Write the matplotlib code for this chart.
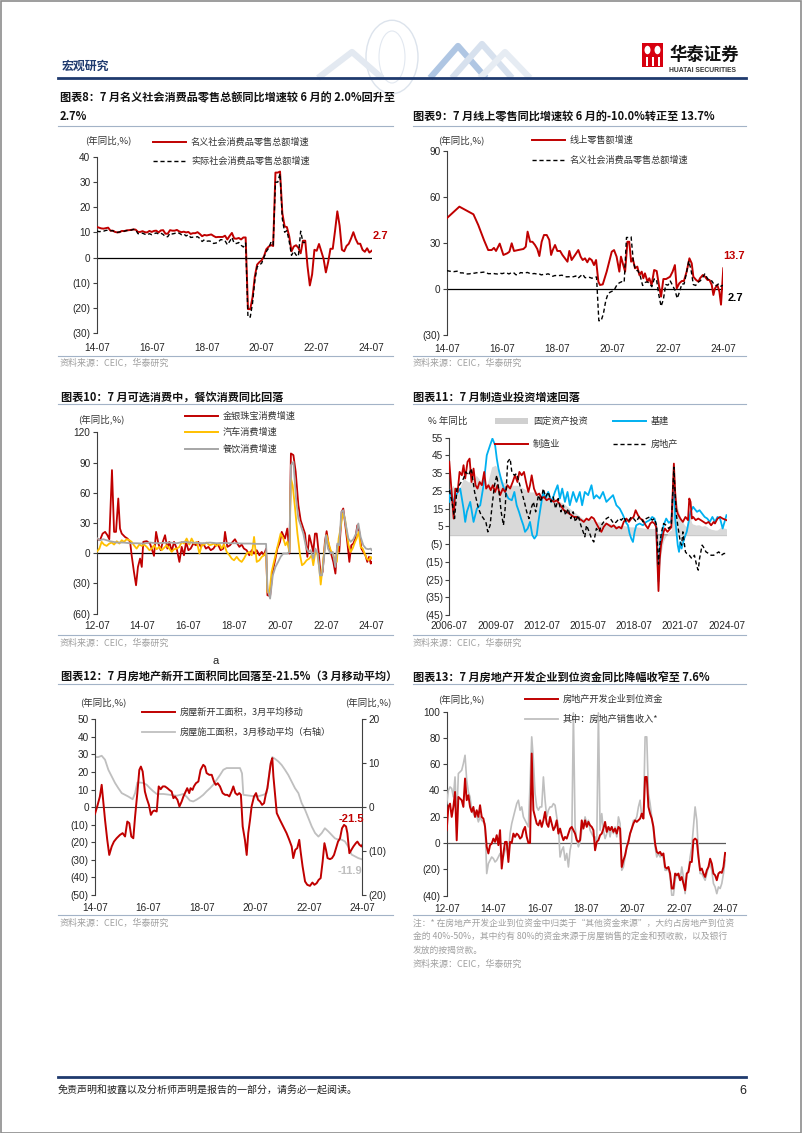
import numpy as np
import matplotlib.pyplot as plt
from matplotlib.lines import Line2D
from matplotlib.patches import Rectangle, Circle, Ellipse

plt.rcParams["font.family"] = ["Liberation Sans", "Noto Sans CJK SC"]
plt.rcParams["axes.unicode_minus"] = False
CJK = ["Noto Sans CJK SC", "DejaVu Sans"]

RED = "#C00000"
YEL = "#FFC000"
GRY = "#A6A6A6"
LGRY = "#BFBFBF"
BLUE = "#00B0F0"
SEP = "#A3B3C7"
SRC = "#A0A0A0"
NAVY = "#1F3A6E"

# ---- 图表8 / 图表9: 社零 (2014-07 起, 月度) ----
retail_nominal = [12.2, 11.9, 11.6, 11.5, 11.7, 11.9,
                  10.7, 10.7, 10.2, 10.0, 10.1, 10.6, 10.5, 10.8, 10.9, 11.0, 11.2, 11.1,
                  10.2, 10.2, 10.5, 10.1, 10.0, 10.6, 10.2, 10.6, 10.7, 10.0, 10.8, 10.9,
                  9.5, 9.5, 10.9, 10.7, 10.7, 11.0, 10.4, 10.1, 10.3, 10.0, 10.2, 9.4,
                  9.7, 9.7, 10.1, 9.4, 8.5, 9.0, 8.8, 9.0, 9.2, 8.6, 8.1, 8.2,
                  8.2, 8.2, 8.7, 7.2, 8.6, 9.8, 7.6, 7.5, 7.8, 7.2, 8.0, 8.0,
                  -20.5, -20.5, -15.8, -7.5, -2.8, -1.8, -1.1, 0.5, 3.3, 4.3, 5.0, 4.6,
                  33.8, 33.8, 34.2, 17.7, 12.4, 12.1, 8.5, 2.5, 4.4, 4.9, 3.9, 1.7,
                  6.7, 6.7, -3.5, -11.1, -6.7, 3.1, 2.7, 5.4, 2.5, -0.5, -5.9, -1.8,
                  3.5, 3.5, 10.6, 18.4, 12.7, 3.1, 2.5, 4.6, 5.5, 7.6, 10.1, 7.4,
                  5.5, 5.5, 3.1, 2.3, 3.7, 2.0, 2.7]
retail_real = [10.6, 10.3, 10.4, 10.5, 10.8, 10.9,
               10.7, 10.7, 10.2, 10.0, 10.2, 10.6, 10.5, 10.7, 10.9, 10.9, 11.2, 11.1,
               9.5, 9.5, 9.7, 9.3, 9.0, 9.5, 9.1, 9.5, 9.8, 9.4, 9.7, 9.2,
               8.3, 8.3, 9.7, 9.4, 9.6, 10.0, 9.7, 9.1, 9.4, 8.6, 9.1, 8.0,
               8.1, 8.1, 8.3, 7.6, 6.4, 7.1, 6.5, 6.6, 6.4, 5.6, 5.8, 6.0,
               7.1, 7.1, 6.7, 5.1, 6.4, 8.0, 5.7, 5.6, 6.0, 4.9, 4.2, 5.8,
               -23.7, -23.7, -18.1, -9.1, -3.7, -3.0, -2.2, 0.2, 2.4, 3.7, 6.0, 5.0,
               30.0, 30.0, 33.4, 15.4, 10.1, 10.7, 6.4, 0.9, 2.5, 1.0, 0.5, 10.5,
               6.0, 6.0]
online_m = [0, 5.5, 11.6, 13.7, 16.2, 18, 19.5, 20.5, 21.4, 23, 24.6, 26.3, 27.2, 28.2, 29.2,
            31, 33.3, 34.3, 35.1, 36.2, 37.2, 38.3, 39.3, 40.2, 41.2, 42.2, 43.4, 44.5, 45.3, 46,
            47, 48, 49.2, 50.2, 51.3, 52.4, 53.2, 54.2, 55.7, 57.1, 58.1, 59, 60, 61, 61.9,
            62.9, 63.9, 64.8, 65.8, 66.5, 67.7, 69.4, 71.6, 72.6, 73.7, 74.9, 75.6, 76.6, 77.4, 78.4,
            79.2, 80, 80.7, 81.7, 82.7, 83.6, 84.6, 85.3, 86, 87.1, 87.9, 88.9, 90, 91.1, 92.3,
            93, 94, 95.2, 96.9, 98, 99, 99.8, 100.9, 102, 102.9, 104.1, 105.3, 106.3, 107, 108.2,
            109.2, 109.9, 111.1, 112.1, 113.1, 114, 115, 115.7, 116.4, 117.4, 118.3, 119, 120]
online = [46.3, 53.9, 48.9, 41.9, 32, 25.6, 25.6, 27, 25, 29.8, 22.4, 23.5, 24.5, 30, 25,
          25.6, 26.3, 27.8, 37.6, 31, 31, 28.9, 26.3, 21.7, 31, 35.4, 35.4, 32.2, 22.4, 25.6,
          28.9, 25, 25, 22.4, 20.2, 18, 25, 19.1, 22.4, 25.6, 21.3, 19.1, 20.2, 17.6, 20.2,
          19.1, 15.8, 19.1, 5, 2.8, 3.2, 11.5, 24.5, 25.6, 21.3, 11.5, 21.3, 15.8, 11.5, 31,
          31, 18, 20.2, 13.7, 14.8, 9.3, 11.5, 7.2, 10.4, 5, 7.2, 2.8, 12.6, 11.9, 0.6,
          -4.8, 6.7, 6.7, 8.2, 11.5, 15.8, 0.6, 3.9, 5.4, 5.4, 11.5, 20.2, 16.9, 8.2, 6.1,
          5, 7.2, 9.3, 8.2, 6.1, 6.1, 2.8, -3.7, 0.6, 2.8, -1.5, -10.0, 13.7]

# ---- 图表10: 可选消费 (2012-07 起, 月序号) ----
jewel_m = [0, 1.7, 3.1, 4.4, 5.6, 6.6, 8.0, 9.1, 10.1, 11.3, 12.2, 13.1, 14.8, 16.1, 17.5,
           18.3, 19.5, 20.6, 21.6, 22.7, 23.6, 24.4, 26.2, 27.9, 28.8, 30.0, 31.1, 32.3, 33.5, 34.6,
           35.8, 37.0, 38.0, 39.3, 40.5, 41.9, 43.3, 44.5, 45.7, 46.8, 48.0, 49.2, 50.6, 52.0, 53.2,
           54.5, 55.8, 57.2, 58.5, 59.7, 61.1, 62.5, 63.7, 64.9, 66.3, 67.2, 68.4, 69.8, 71.2, 72.4,
           73.6, 74.7, 75.9, 77.1, 78.5, 79.9, 81.2, 82.4, 83.8, 85.2, 86.4, 87.6, 88.7, 89.4, 90.8,
           92.1, 93.4, 94.6, 96.0, 96.9, 97.7, 98.6, 99.8, 100.9, 101.7, 103.0, 104.2, 105.6, 106.8,
           108.2, 109.1, 110.3, 111.3, 112.6, 113.4, 114.3, 115.2, 116.2, 117.3, 118.3, 119.5, 120.4,
           121.5, 122.5, 123.9, 125.0, 126.0, 127.0, 128.3, 129.1, 130.2, 131.2, 132.3, 133.3, 134.4,
           135.4, 136.5, 137.5, 138.6, 139.6, 140.7, 141.7, 142.6, 143.5, 144.0]
jewel = [14.6, 12.9, 19.5, 21.2, 17.9, 13.9, 82.5, 21.2, 21.2, 54.3, 24.5, 19.5, 16.2, 14.6, 11.3,
         -2, -18.5, -31.8, -13.6, -5.3, -13.6, 11.3, 12, 9.6, 4.6, -2.6, 21.2, 9.6, 3, 11.3,
         17.9, 4.6, 11.3, 2, 11.3, 4.6, -8.6, 6.3, -2, 11.3, 3, 4.6, 9.6, 7.9, 11.3,
         6.3, 9.6, 4.6, 6.3, 3, 4.6, 8.6, 7.9, 3, 4.6, 21.2, 6.3, 7.9, 11.3, 13.9,
         9.6, 6.3, 8.6, 4.6, 3, -2, 3, -0.3, 3, -2, 1.3, -2, 4.6, -41.7, -42.4,
         -18.5, -7, 4.6, 11.3, 21.2, 17.9, 14.6, 24.5, -0.3, 99, 97.4, 80.8, 47.7, 32.8,
         24.5, 19.5, -3.6, 17.9, 7.9, 1.3, 19.5, 19.5, 1.3, -21.9, -18.5, 11.3, 21.9,
         7.9, 1.3, -8.6, -20.2, 7.9, 1.3, 41.1, 44.4, 27.8, 11.3, -8.6, 7.9, 9.6,
         14.6, 27.8, 21.2, 4.6, 1.3, -2, -8.6, -3.6, -10.3, -8.6]
auto_m = [0, 1.4, 2.6, 3.8, 5.2, 6.6, 7.9, 9.1, 10.5, 11.9, 13.1, 14.3, 15.7, 17.1, 18.3, 19.5,
          20.9, 22.3, 23.6, 24.8, 26.2, 27.6, 28.8, 30.0, 31.4, 32.8, 34.0, 35.3, 36.6, 38.0, 39.3,
          40.5, 41.9, 43.3, 44.5, 45.7, 47.1, 48.5, 49.7, 51.0, 52.4, 53.8, 55.0, 56.2, 57.6, 59.0,
          60.2, 61.4, 62.8, 64.2, 65.4, 66.7, 68.1, 69.5, 70.7, 71.9, 73.3, 74.7, 75.9, 77.1, 78.5,
          79.9, 81.2, 82.4, 83.8, 85.2, 86.4, 87.6, 88.7, 89.4, 90.4, 91.6, 92.8, 94.2, 95.3, 96.3,
          97.7, 98.8, 99.8, 100.9, 101.7, 102.6, 103.8, 105.1, 106.5, 107.5, 108.6, 109.9, 111.3,
          112.6, 113.4, 114.5, 115.5, 116.6, 117.3, 118.3, 119.5, 120.4, 121.5, 122.5, 123.6, 124.8,
          125.7, 126.7, 127.7, 128.8, 130.0, 130.9, 131.9, 133.0, 134.0, 135.3, 136.1, 137.2, 138.2,
          139.3, 140.3, 141.4, 142.4, 143.5, 144.0]
auto = [1.3, 4.6, 11.3, 8.6, 7.3, 9.6, 10.6, 8.6, 11.9, 9.6, 12.9, 11.3, 13.9, 12.9, 11.3, 7.9,
        4.6, 8.6, 7.3, 8.6, 6.3, 3, 4.6, 7.9, 4, 6.3, 3, 5.3, 7.9, 4.6, 1.3,
        4, 4.6, 6.3, 11.3, 9.6, 14.6, 8.6, 14.6, 9.6, 11.3, -0.3, 7.9, 8.6, 10.6, 7.9,
        8.6, 9.6, 7.3, 9.6, 4.6, 8.6, 1.3, -2, -5.3, -7, -3.6, -7, -8.6, -5.3, -0.3,
        1.3, -2, 16.2, -8.6, -7, -3.6, -2, 1.3, -38.4, -40.1, -18.5, -8.6, 3, 11.3, 19.5,
        14.6, 7.9, 11.3, 1.3, 74.2, 67.5, 46, 19.5, -2, -11.9, -10.3, -7, -5.3,
        -2, -11.9, 1.3, -0.3, -15.2, -31.1, -13.6, 7.9, 17.9, 9.6, 3, -0.3, -7,
        -8.6, 14.6, 24.5, 39.4, 34.4, 21.2, 7.9, 1.3, 4.6, 11.3, 14.6, 21.2, 6.3,
        4.6, -0.3, -5.3, -7, -3.6, -5.3]
dining_m = [0, 1.7, 3.5, 5.2, 7.0, 8.7, 10.5, 14.0, 17.5, 20.9, 24.4, 27.9, 31.4, 34.9, 38.4,
            41.9, 45.4, 48.9, 52.4, 55.8, 59.3, 62.8, 66.3, 69.8, 73.3, 76.8, 80.3, 83.8, 87.3, 88.7,
            89.4, 90.8, 92.2, 93.6, 95.0, 96.3, 97.7, 99.8, 100.9, 101.7, 103.0, 104.4, 105.6, 106.8,
            108.2, 109.6, 110.8, 112.0, 113.4, 114.5, 115.7, 116.9, 118.0, 119.0, 120.1, 121.1, 122.5,
            123.6, 125.0, 126.0, 127.0, 128.1, 129.1, 130.5, 131.8, 133.0, 134.4, 135.8, 137.0, 138.2,
            139.6, 141.0, 142.2, 143.5, 144.0]
dining = [15.2, 12.9, 13.9, 12.9, 11.9, 11.3, 10.6, 10.6, 9.9, 9.9, 9.6, 10.6, 9.9, 10.3, 10.6,
          9.9, 11.3, 10.6, 10.3, 9.9, 10.6, 9.9, 10.3, 9.9, 9.9, 9.6, 9.6, 9.3, 9.3, 9.3,
          -35.1, -45, -21.9, -13.6, -8.6, -3.6, -0.3, -0.3, 1.3, 87.4, 90.7, 54.3, 34.4, 27.8,
          19.5, 6.3, 1.3, 3, -5.3, 4.6, -0.3, -21.9, -21.9, -5.3, 17.9, 4.6, -0.3,
          1.3, -13.6, 9.6, 7.9, 41.1, 42.7, 27.8, 14.6, 11.3, 13.9, 19.5, 29.5, 16.2,
          7.9, 4.6, 4, 4.6, 3]

# ---- 图表11: 投资 (2006-07 起, 月序号) ----
fai_m = [0, 3, 6, 9, 11, 15, 19, 21, 24, 28, 30, 33, 36, 38, 42, 47, 53, 58, 63, 68, 73, 78, 84,
         89, 94, 99, 104, 110, 115, 120, 125, 130, 135, 141, 146, 151, 155, 161, 162, 163, 164,
         165, 166, 167, 168, 169, 170, 171, 172, 173, 175, 176, 177, 178, 179, 180, 181, 182,
         183, 184, 185, 187, 188, 189, 190, 191, 192, 193, 194, 195, 196, 197, 199, 200, 201,
         202, 203, 204, 205, 206, 207, 208, 209, 211, 212, 213, 214, 215, 216]
fai = [24.4, 28.2, 22.6, 28.2, 32, 30, 31, 33.8, 31, 26.3, 30, 38.5, 39.5, 36.7, 30, 28.2, 28.2,
       26.3, 24.4, 24.4, 22.6, 21.6, 19.7, 17.9, 15, 12.2, 9.4, 9.4, 7.5, 7.5, 6.6, 5.6, 5.6,
       4.7, 4.7, 4.1, 3.8, 3.8, 5.4, -24.5, -16.1, -10.3, -6.3, -3.1, -1.6, -0.3, 0.8, 1.8,
       2.6, 2.9, 35.0, 25.6, 19.9, 15.4, 12.6, 10.3, 8.9, 7.3, 6.1, 5.2, 4.9, 12.2, 9.3, 6.8,
       6.2, 6.1, 5.7, 5.8, 5.9, 5.8, 5.3, 5.1, 5.5, 5.1, 4.7, 4.0, 3.8, 3.4, 3.2, 3.1, 2.9,
       2.9, 3.0, 4.2, 4.5, 4.2, 4.0, 3.9, 3.6]
infra_m = [0, 0.8, 3.4, 6.0, 8.5, 11.1, 12.4, 13.7, 16.3, 18.9, 21.5, 24.1, 26.7, 29.2, 31.8, 33.6,
           35.7, 37.0, 38.3, 40.9, 43.5, 46.1, 48.7, 50.7, 52.5, 54.3, 55.9, 57.7, 59.0, 61.1, 62.9,
           64.7, 66.3, 68.1, 69.4, 71.4, 73.2, 75.1, 77.1, 79.7, 82.3, 84.4, 86.2, 88.0, 90.1, 92.1,
           93.9, 96.5, 99.1, 101.7, 103.5, 105.6, 108.2, 110.8, 112.6, 114.6, 117.2, 119.8, 122.4,
           125.0, 127.6, 130.2, 132.8, 135.4, 137.4, 139.2, 140.5, 141.8, 143.1, 144.4, 145.7, 148.3,
           150.9, 153.5, 156.1, 158.1, 159.9, 161.2, 163, 164, 165, 166, 167, 169, 171, 173, 175,
           176, 177, 178, 179, 180, 181, 183, 185, 188, 190, 191, 193, 195, 197, 199, 201, 203, 205,
           207, 209, 211, 213, 216]
infra = [18.8, 25.4, 18.8, 23.5, 26.3, 15, 7.5, 13.2, 18.8, 7.5, 15, 16.9, 28.2, 45.1, 50.8, 54.5,
         50.8, 43.2, 37.6, 30, 24.4, 20.7, 19.7, 24.4, 16.9, 13.2, 9.4, 5.6, 1.9, 3.8, 7.5,
         0, -1.9, 0, 7.5, 16.9, 24.4, 20.7, 24.4, 18.8, 24.4, 28.2, 20.7, 26.3, 18.8, 24.4,
         16.9, 24.4, 18.8, 24.4, 16.9, 24.4, 22.6, 28.2, 20.7, 22.6, 20.7, 24.4, 18.8,
         20.7, 22.6, 16.9, 15, 11.3, 7.5, 5.6, 0.9, -1.9, -3.8, 1.9, 5.6, 6.6,
         5.6, 7.5, 8.5, 10.3, 9.4, 5.6, -26, -7.5, -1.9, 1.9, 5.6, 9.4, 7, 8, 33,
         9.4, 1.9, -5.6, -9.4, -3.8, -7.5, -1.9, 1.9, 13.2, 16, 15, 13.2, 14.1, 12.2, 10.3, 9.4, 7.5,
         10.3, 7.5, 10.3, 9.4, 3.8, 11.3]
manu_m = [0, 3.4, 4.7, 6.5, 8.0, 9.8, 11.1, 12.4, 14.2, 15.8, 17.3, 18.9, 20.4, 22.0, 23.6, 25.4,
          27.2, 28.7, 30.5, 32.3, 33.9, 35.7, 37.5, 39.6, 41.7, 43.5, 45.3, 47.4, 49.4, 51.2, 53.1,
          54.6, 56.4, 58.2, 59.8, 61.6, 62.9, 64.2, 66.0, 68.1, 70.1, 71.9, 73.8, 75.8, 77.9, 79.7,
          81.5, 83.6, 85.7, 87.5, 89.3, 91.4, 93.4, 95.2, 97.0, 99.1, 101.2, 103.0, 104.8, 106.9,
          108.7, 110.8, 112.6, 114.6, 116.7, 118.5, 120.3, 122.4, 124.5, 126.3, 128.1, 130.2, 132.2,
          134.1, 135.9, 138.0, 140.0, 141.8, 143.6, 145.2, 147.0, 148.8, 150.9, 153.0, 154.8, 156.6,
          158.1, 159.9, 161.2, 163, 164, 165, 166, 167, 168, 170, 173, 175, 176, 177, 178, 180, 182,
          184, 185, 186, 187, 188, 189, 190, 192, 194, 196, 200, 202, 204, 206, 207, 209, 211, 213, 216]
manu = [41.4, 9.4, 26.3, 24.4, 35.7, 33.8, 39.5, 32, 41.4, 43.2, 30, 37.6, 28.2, 26.3, 30, 28.2,
        35.7, 26.3, 28.2, 25.4, 28.2, 24.4, 28.2, 22.6, 26.3, 24.4, 28.2, 26.3, 30, 33.8, 30,
        35.7, 33.8, 35.7, 30, 24.4, 28.2, 33.8, 26.3, 22.6, 23.5, 20.7, 21.6, 19.7, 20.7, 19.7,
        18.8, 19.7, 17.9, 16, 14.1, 13.2, 12.2, 11.3, 10.3, 10.3, 9.4, 8.5, 7.5, 9.4,
        8.5, 10.3, 9.4, 6.6, 3.8, 1.9, 4.7, 6.6, 5.6, 4.7, 5.6, 3.8, 4.7,
        3.8, 7.5, 9.4, 7.5, 9.4, 10.3, 14.1, 11.3, 9.4, 8.5, 5.6, 3.8, 6.6,
        7.5, 6.6, 4.7, -31.5, -13.2, -5.6, -1.9, 1.9, 3.8, 1.9, 4.5, 40.4, 24.4, 15, 12.2, 9.4, 7.5,
        10.3, 9.4, 8.5, 20.7, 18.8, 9.4, 10.3, 8.5, 9.4, 8.5, 6.6, 7.5, 5.6, 7.5, 6.6, 9.4, 10.3, 9.4, 8.5]
prop_m = [0, 2.1, 4.1, 6.0, 8.5, 11.1, 12.9, 15.0, 17.1, 19.7, 21.5, 22.8, 24.8, 26.7, 28.5, 30.0,
          31.8, 33.1, 35.2, 37.0, 38.8, 40.4, 42.2, 43.5, 45.5, 47.4, 48.7, 50.7, 52.5, 54.3, 56.4,
          58.5, 60.3, 62.1, 63.7, 65.5, 67.3, 69.4, 71.4, 73.2, 75.1, 77.1, 79.2, 81.0, 82.8, 84.9,
          87.0, 88.8, 90.6, 92.6, 94.7, 96.5, 98.3, 100.4, 102.5, 104.3, 105.6, 106.9, 109.0, 110.8,
          112.6, 114.6, 116.7, 118.5, 120.3, 122.4, 124.5, 126.3, 128.1, 130.2, 132.2, 134.1, 135.9,
          138.0, 140.0, 141.8, 143.6, 145.7, 147.8, 149.6, 150.9, 153.5, 156.1, 158.1, 159.9, 161.5,
          163, 164, 165, 166, 167, 169, 171, 173, 175, 176, 177, 178, 179, 180, 181, 182, 183, 184,
          185, 187, 189, 191, 193, 194, 195, 197, 198, 200, 202, 204, 206, 208, 210, 212, 214, 216]
prop = [25.4, 18.8, 9.4, 26.3, 29.1, 32, 35.7, 33.8, 37.6, 24.4, 18.8, 15, 11.3, 9.4, 7.5, 1.9,
        5.6, 15, 28.2, 33.8, 24.4, 13.2, 5.6, 15, 41.4, 43.2, 35.7, 33.8, 34.8, 30, 24.4,
        18.8, 13.2, 9.4, 15, 18.8, 13.2, 22.6, 18.8, 26.3, 21.6, 24.4, 18.8, 21.6, 15, 20.7,
        13.2, 16.9, 11.3, 15, 9.4, 13.2, 7.5, 11.3, 5.6, 1.9, -0.9, 5.6, 1.9, -1.9,
        -3.8, 3.8, 1.9, 5.6, 7.5, 9.4, 10.3, 8.5, 6.6, 7.5, 9.4, 8.5, 10.3,
        7.5, 8.5, 10.3, 9.4, 7.5, 10.3, 9.4, 7.5, 9.4, 10.3, 8.5, 9.4, 5.6,
        -16.3, -5.6, 0, 3.8, 6.6, 5.6, 3.8, 5.5, 38.3, 22.6, 11.3, 5.6, 0.9, -3.8, -5.6, 1.9, -3.8, -9.4,
        -10.3, -11.3, -13.2, -11.3, -17.9, -19.7, -13.2, -5.6, -6.6, -9.4, -10.3, -11.3, -11.3, -10.3,
        -9.4, -11.3, -10.3, -10.3]

# ---- 图表12: 新开工/施工 3MMA (2014-07 起, 月序号) ----
starts_m = [0, 1.0, 2.2, 3.0, 4.5, 5.5, 6.4, 7.5, 8.5, 9.7, 11.2, 12.4, 13.5, 14.5, 15.4, 16.3,
            17.2, 18.0, 19.0, 19.9, 20.6, 21.4, 22.4, 23.2, 24.2, 25.1, 25.9, 26.6, 27.7, 28.6, 29.5,
            30.4, 31.4, 32.5, 33.4, 34.4, 35.2, 35.9, 37.0, 37.9, 38.9, 39.7, 40.4, 41.4, 42.3, 42.9,
            43.8, 44.4, 45.3, 46.4, 47.4, 48.6, 49.4, 50.1, 51.3, 52.4, 53.4, 54.2, 55.1, 56.1, 57.3,
            58.4, 59.4, 60.3, 61.3, 62.1, 63.0, 63.9, 64.8, 65.5, 66.3, 67.3, 68.1, 68.8, 69.6, 70.3,
            71.4, 72.3, 73.2, 74.1, 75.0, 75.9, 76.8, 77.4, 78.1, 78.9, 79.6, 80.1, 80.8, 81.6, 82.3,
            83.0, 84.5, 86.0, 87.2, 88.3, 89.0, 89.9, 90.8, 91.7, 92.3, 93.2, 94.3, 95.3, 96.5, 97.6,
            98.5, 99.5, 100.4, 101.3, 102.2, 103.0, 103.7, 104.4, 105.5, 106.4, 107.3, 108.2, 109.1,
            110.0, 110.9, 111.8, 112.7, 113.3, 114.2, 115.1, 116.0, 117.1, 117.8, 118.7, 119.7, 120]
starts = [-3.8, 0.4, 6.1, 12.7, -7.2, -18.6, -27.2, -22.4, -19.6, -17.7, -15.8, -14.8, -16.7, -8.2,
          -9.1, -16.7, -17.7, -5.3, 8, 21.2, 23.1, 20.3, 8.9, 5.1, 1.3, -4.4, -2.5, -1.9, -2.5,
          11.8, 10.2, 11.8, 11.8, 10.8, 9.8, 8.9, 5.1, 6.1, 4.2, 0.4, 3.2, 6.1, 8, 10.8, 8,
          10.8, 9.8, 11.8, 13.6, 14.6, 21.2, 24.1, 23.1, 19.4, 18.4, 18.4, 14.6, 12.7, 13.6, 11.8,
          8, 7, 7, 6.1, 8.9, 11.8, 8, 7, 8, 7, -11, -18.6, -27.2, -14.8, -7.2, 0.4, 6.1, 8,
          4.2, 3.2, 1.3, 2.3, 8, 10.8, 17.4, 25, 27.9, 17.4, 8, -3.4, -5.3, -7.2, -11, -14.8,
          -18.6, -22.4, -29, -24.3, -23.3, -18.6, -25.2, -33.8, -42.3, -44.2, -44.8, -42.9, -44.2,
          -43.3, -41.4, -40.4, -30.9, -20.5, -24.3, -29, -29.6, -29, -27.2, -23.3, -19.6, -17.7,
          -12, -10.1, -11, -14.8, -26.2, -24.3, -22.4, -20.5, -19.6, -21.4, -22.4, -21.5]
constr_m = [0, 1.5, 3.0, 4.5, 6.0, 7.5, 9.0, 10.5, 12.0, 13.5, 15.0, 16.9, 18.0, 19.0, 20.2, 21.7,
            23.2, 24.7, 26.2, 27.7, 30.7, 33.7, 36.7, 39.7, 41.1, 42.6, 44.1, 45.6, 47.1, 48.6, 50.1,
            51.6, 53.1, 54.6, 56.1, 57.6, 59.1, 65.1, 66.0, 66.6, 69.6, 72.6, 75.6, 77.1, 78.6, 79.6,
            80.8, 82.3, 83.8, 85.3, 86.8, 88.3, 89.8, 91.3, 92.8, 94.3, 95.8, 97.3, 98.8, 100.3,
            101.8, 103.2, 104.7, 106.2, 107.7, 109.2, 110.7, 112.2, 113.7, 115.2, 116.7, 118.2, 120]
constr = [11.4, 11.4, 11.7, 10.8, 8.5, 7, 5.5, 4.3, 3.2, 2.8, 2.4, 1.8, 3.2, 5.6, 5.6, 5.5, 5.1,
          4.3, 3.6, 3, 3, 2.8, 2.6, 3, 2.4, 1.5, 1.3, 1.7, 2.2, 2.8, 3.6, 4.3, 5.1, 6.2, 7.3,
          8.5, 8.9, 8.9, 7.7, 2.8, 2.6, 2.4, 2.8, 3.2, 9.2, 11.4, 11, 10.4, 9.6, 8.5, 7.3, 5.8,
          4.3, 3.2, 0.9, -0.6, -2.5, -4.4, -5.9, -6.7, -5.9, -4.8, -5.5, -6.3, -7.1, -7.4, -7.4,
          -7.8, -9, -10.8, -11.2, -11.6, -11.9]

# ---- 图表13: 到位资金 (2012-07 起, 读数按等间距取) ----
funds = [9.7, 27.4, 29.9, 19.8, 27.4, 38.8, 2, 35, 33.8, 32.5,
         27.4, 49, 32.5, 36.3, 27.4, 23.6, 27.4, 19.8, 24.9, 19.8,
         28.7, 19.8, 18.5, 12.2, -2.9, -8, -1.7, -0.5, 3.3, 0.8,
         5.9, -1.7, 9.7, -19.5, -8, 0.8, 0.8, -14.5, 0.8, 0,
         7.1, 4.6, 7.1, 5.9, 3.3, 4.6, 9.7, 12.2, 4.6, 0,
         0, 68, 24.9, 19.8, 14.7, 13.4, 17.2, 12.2, 17.2, 23.6,
         14.7, 12.2, 19.8, 14.7, 9.7, 12.2, 17.2, 7.1, 10.9, 5.9,
         2.1, 4.6, 3.3, 7.1, 10.9, 12.2, 9.7, 7.1, 2.1, 0.8,
         2.1, 17.2, 10.9, 17.2, 12.2, 16, 13.4, 12.2, 9.7, -5.6,
         0.8, 2.1, 5.9, 7.1, 10.9, 16, 8.4, 12.2, 9.7, 12.2,
         8.4, 10.9, 7.1, 12.2, 10.9, -18.3, -13.2, -9.4, -3, 0.8,
         7.1, 10.9, 14.7, 17.2, 16, 17.2, 18.5, 22.3, 18.5, 50.2,
         50.2, 27.4, 22.3, 18.5, 12.2, -0.5, -6.8, -8, -6.8, -9.4,
         -8, -18.3, -19.5, -18.3, -23.3, -34.7, -34.7, -23.3, -24.6, -23.3,
         -28.4, -25.9, -30.9, -36, -23.3, -22.1, -14.5, -14.5, 2.1, 3.3,
         2.1, -10.7, -20.8, -19.5, -23.3, -25.9, -20.8, -18.3, -12, -15.7,
         -23.3, -24.6, -28.4, -23.3, -22.1, -22.8, -18.3, -7.6]
sales_inc = [29.9, 40, 42.6, 41.4, 35, 50.2, 17.2, 52.8, 54, 55.3,
             60.4, 66.7, 47.7, 38.8, 35, 24.9, 22.3, 19.8, 21.1, 16,
             19.8, 17.2, 16, 14.7, -23.3, -15.7, -13.2, -10.7, -11.9, -14.5,
             -13.2, -10.7, -8, -13.2, -10.7, -5.6, -3, -8, 7.1, 14.7,
             19.8, 24.9, 29.9, 32.5, 24.9, 27.4, 19.8, 17.2, 14.7, 12.2,
             45.2, 80.7, 62.9, 37.6, 27.4, 24.9, 27.4, 27.4, 50.2, 32.5,
             19.8, 24.9, 27.4, 27.4, 29.9, 28.7, 19.8, 12.2, -10.7, -5.6,
             -3, -13.2, -8, -18.3, -5.6, 0.8, 99, 12.2, 2.1, -3,
             0.8, 9.7, 12.2, 19.8, 14.7, 17.2, 9.7, 7.1, 4.6, 4.6,
             -0.5, 99, 9.7, 22.3, 9.7, 3.3, 7.1, 12.2, 4.6, 12.2,
             7.1, 12.2, 4.6, 19.8, 14.7, -20.8, -18.3, -10.7, -3, 2.1,
             7.1, 10.9, 17.2, 17.2, 19.8, 27.4, 32.5, 19.8, 19.8, 80.7,
             80.7, 37.6, 29.9, 19.8, 9.7, -3, -10.7, -8, -10.7, -8,
             -11.9, -20.8, -20.8, -18.3, -25.9, -39.8, -39.8, -28.4, -23.3, -25.9,
             -28.4, -18.3, -25.9, -38.6, -23.3, -20.8, -10.7, -3, 12.2, 27.4,
             17.2, -8, -23.3, -23.3, -25.9, -28.4, -23.3, -18.3, -15.7, -20.8,
             -30.9, -33.5, -38.6, -33.5, -34.7, -30.9, -23.3, -13.2]

labels_1407 = ["14-07", "16-07", "18-07", "20-07", "22-07", "24-07"]
labels_1207 = ["12-07", "14-07", "16-07", "18-07", "20-07", "22-07", "24-07"]
labels_0607 = ["2006-07", "2009-07", "2012-07", "2015-07", "2018-07", "2021-07", "2024-07"]

for a, b in [(online_m, online), (jewel_m, jewel), (auto_m, auto), (dining_m, dining),
             (fai_m, fai), (infra_m, infra), (manu_m, manu), (prop_m, prop),
             (starts_m, starts), (constr_m, constr), (funds, sales_inc)]:
    assert len(a) == len(b), (len(a), len(b))

W, H = 802, 1133
fig = plt.figure(figsize=(W / 100, H / 100), dpi=100)


def fy(y):
    return 1 - y / H


def add_box(x0, x1, ytop, ybot):
    return fig.add_axes([x0 / W, fy(ybot), (x1 - x0) / W, (ybot - ytop) / H])


def ftext(x, y, s, **kw):
    kw.setdefault("va", "center")
    fig.text(x / W, fy(y), s, **kw)


def fline(x0, x1, y0, y1=None, **kw):
    y1 = y0 if y1 is None else y1
    fig.add_artist(Line2D([x0 / W, x1 / W], [fy(y0), fy(y1)], transform=fig.transFigure, **kw))


def paren(v):
    return "(%g)" % abs(v) if v < 0 else "%g" % v


def setup(ax, xmax, ylo, yhi, ystep, xlabels, pad, zero="black", zlw=0.9):
    ax.set_xlim(0, xmax)
    ax.set_ylim(ylo, yhi)
    for s in ["top", "right", "bottom"]:
        ax.spines[s].set_visible(False)
    ax.spines["left"].set_color("#404040")
    ax.spines["left"].set_linewidth(0.8)
    yt = np.arange(ylo, yhi + 0.1, ystep)
    ax.set_yticks(yt)
    ax.set_yticklabels([paren(v) for v in yt])
    ax.set_xticks(np.linspace(0, xmax, len(xlabels)))
    ax.set_xticklabels(xlabels)
    ax.tick_params(axis="y", length=3, width=0.8, pad=1.5, labelsize=7.2, color="#404040",
                   labelcolor="#262626")
    ax.tick_params(axis="x", length=0, pad=pad, labelsize=7.2, labelcolor="#262626")
    ax.axhline(0, color=zero, lw=zlw, zorder=1)
    ax.patch.set_alpha(0)


def legend_line(x0, y, text, color, ls="-", lw=1.4):
    fline(x0, x0 + 33, y, color=color, ls=ls, lw=lw)
    ftext(x0 + 38, y, text, fontsize=6.6, family=CJK, color="#333333")


# ---------------- 页眉页脚 ----------------
fig.add_artist(Rectangle((0.5 / W, 0.5 / H), (W - 1.5) / W, (H - 1.5) / H, transform=fig.transFigure,
                         fill=False, ec="#8C8C8C", lw=1.2))
# 背景装饰
fig.add_artist(Circle((392 / W, fy(57)), 26 / W, transform=fig.transFigure, fill=False,
                      ec="#DCE3EC", lw=1.0))
fig.add_artist(Ellipse((392 / W, fy(57)), 26 / W, 52 / H, transform=fig.transFigure, fill=False,
                       ec="#E2E8F0", lw=0.8))
for pts, c in [([(318, 78), (352, 52), (382, 78)], "#E3E9F1"),
               ([(430, 78), (458, 46), (486, 78)], "#AFC6E3"),
               ([(452, 78), (482, 44), (512, 78)], "#D7E1EE"),
               ([(480, 78), (505, 52), (530, 78)], "#E6ECF3")]:
    xs, ys = zip(*pts)
    fig.add_artist(Line2D([x / W for x in xs], [fy(y) for y in ys], transform=fig.transFigure,
                          color=c, lw=4.5, solid_capstyle="butt"))
ftext(62, 66, "宏观研究", fontsize=8.6, family=CJK, fontweight="bold", color=NAVY)
fline(58, 746, 78, color=NAVY, lw=2.0)
fig.add_artist(Rectangle((642 / W, fy(67)), 21 / W, 24 / H, transform=fig.transFigure,
                         fc="#D7000F", ec="none"))
for cx in [646.5, 652.5, 658.5]:
    fig.add_artist(Rectangle(((cx - 1) / W, fy(66)), 2 / W, 9 / H, transform=fig.transFigure,
                             fc="white", ec="none"))
for cx in [647.5, 657.5]:
    fig.add_artist(Circle((cx / W, fy(50)), 3 / W, transform=fig.transFigure, fc="white", ec="none"))
ftext(669, 55, "华泰证券", fontsize=12.5, family=CJK, fontweight="bold", color="#111111")
ftext(669, 70, "HUATAI SECURITIES", fontsize=4.9, fontweight="bold", color="#333333")

fline(58, 746, 1077, color=NAVY, lw=2.0)
ftext(58, 1091, "免责声明和披露以及分析师声明是报告的一部分，请务必一起阅读。", fontsize=7.2,
      family=CJK, color="#222222")
ftext(746, 1091, "6", fontsize=9, ha="right", color="#222222")

# 分隔线
for ya in [126, 404, 684]:
    fline(58, 393, ya, color=SEP, lw=0.8)
    fline(413, 746, ya, color=SEP, lw=0.8)
for ya in [356, 635]:
    fline(58, 393, ya, color=SEP, lw=0.8)
    fline(413, 746, ya, color=SEP, lw=0.8)
fline(58, 393, 915, color=SEP, lw=0.8)
fline(413, 746, 915, color=SEP, lw=0.8)

TK = dict(fontsize=8, family=CJK, fontweight="bold", color="#111111")
SK = dict(fontsize=6.5, family=CJK, color=SRC)
UK = dict(fontsize=6.8, family=CJK, color="#333333")

# ---------------- 图表8 ----------------
ftext(60, 98, "图表8：7 月名义社会消费品零售总额同比增速较 6 月的 2.0%回升至", **TK)
ftext(60, 117, "2.7%", **TK)
ax8 = add_box(96.7, 371.7, 157, 333)
setup(ax8, 120, -30, 40, 10, labels_1407, pad=7)
ax8.plot(np.arange(len(retail_nominal)), retail_nominal, color=RED, lw=1.4, zorder=3)
ax8.plot(np.arange(len(retail_real)), retail_real, color="black", ls=(0, (3, 2)), lw=1.0, zorder=4)
ax8.annotate("%.1f" % retail_nominal[-1], xy=(120, retail_nominal[-1]), xytext=(1, 7),
             textcoords="offset points", color=RED, fontsize=8, fontweight="bold", va="bottom")
ftext(85, 140, "(年同比,%)", **UK)
legend_line(153, 142, "名义社会消费品零售总额增速", RED)
legend_line(153, 161, "实际社会消费品零售总额增速", "black", ls=(0, (3, 2)), lw=1.0)
ftext(60, 363, "资料来源：CEIC，华泰研究", **SK)

# ---------------- 图表9 ----------------
ftext(413, 117, "图表9：7 月线上零售同比增速较 6 月的-10.0%转正至 13.7%", **TK)
ax9 = add_box(446.7, 723.3, 151.3, 335.3)
setup(ax9, 120, -30, 90, 30, labels_1407, pad=6)
ax9.plot(online_m, online, color=RED, lw=1.4, zorder=3)
ax9.plot(np.arange(len(retail_nominal)), retail_nominal, color="black", ls=(0, (3, 2)), lw=1.0,
         zorder=4)
ax9.annotate("%.1f" % online[-1], xy=(120, online[-1]), xytext=(0, 5),
             textcoords="offset points", color=RED, fontsize=8, fontweight="bold", va="bottom")
ax9.annotate("%.1f" % retail_nominal[-1], xy=(120, retail_nominal[-1]), xytext=(3, -6),
             textcoords="offset points", color="black", fontsize=8, fontweight="bold", va="top")
ftext(438, 140, "(年同比,%)", **UK)
legend_line(532, 140, "线上零售额增速", RED)
legend_line(532, 160, "名义社会消费品零售总额增速", "black", ls=(0, (3, 2)), lw=1.0)
ftext(413, 363, "资料来源：CEIC，华泰研究", **SK)

# ---------------- 图表10 ----------------
ftext(61, 397, "图表10：7 月可选消费中，餐饮消费同比回落", **TK)
ax10 = add_box(96.7, 371.7, 432.3, 613.7)
setup(ax10, 144, -60, 120, 30, labels_1207, pad=5.5)
ax10.plot(jewel_m, jewel, color=RED, lw=1.3, zorder=3)
ax10.plot(auto_m, auto, color=YEL, lw=1.3, zorder=4)
ax10.plot(dining_m, dining, color=GRY, lw=1.3, zorder=5)
ftext(78, 419, "(年同比,%)", **UK)
legend_line(185, 416, "金银珠宝消费增速", RED)
legend_line(185, 432, "汽车消费增速", YEL)
legend_line(185, 449, "餐饮消费增速", GRY)
ftext(60, 643, "资料来源：CEIC，华泰研究", **SK)

# ---------------- 图表11 ----------------
ftext(413, 397, "图表11：7 月制造业投资增速回落", **TK)
ax11 = add_box(449.3, 726.5, 437.7, 615)
setup(ax11, 216, -45, 55, 10, labels_0607, pad=4.5, zero="#A6A6A6", zlw=1.6)
ax11.fill_between(fai_m, 0, fai, color="#D9D9D9", lw=0, zorder=2)
ax11.plot(infra_m, infra, color=BLUE, lw=1.3, zorder=3)
ax11.plot(manu_m, manu, color=RED, lw=1.3, zorder=4)
ax11.plot(prop_m, prop, color="black", ls=(0, (3, 2)), lw=1.0, zorder=5)
ftext(428, 421, "% 年同比", **UK)
fig.add_artist(Rectangle((495 / W, fy(424)), 33 / W, 6 / H, transform=fig.transFigure,
                         fc="#D0D0D0", ec="none"))
ftext(533, 421, "固定资产投资", fontsize=6.6, family=CJK, color="#333333")
legend_line(613, 421, "基建", BLUE)
legend_line(495, 444, "制造业", RED)
legend_line(613, 444, "房地产", "black", ls=(0, (3, 2)), lw=1.0)
ftext(413, 643, "资料来源：CEIC，华泰研究", **SK)

# ---------------- 图表12 ----------------
ftext(216, 661, "a", fontsize=8, color="#222222", ha="center")
ftext(61, 677, "图表12：7 月房地产新开工面积同比回落至-21.5%（3 月移动平均）", **TK)
ax12 = add_box(95, 362.3, 719.3, 895)
setup(ax12, 120, -50, 50, 10, labels_1407, pad=6, zero="#404040", zlw=0.8)
ax12r = ax12.twinx()
ax12r.set_ylim(-20, 20)
for s in ["top", "left", "bottom"]:
    ax12r.spines[s].set_visible(False)
ax12r.spines["right"].set_color("#404040")
ax12r.spines["right"].set_linewidth(0.8)
yr = np.arange(-20, 21, 10)
ax12r.set_yticks(yr)
ax12r.set_yticklabels([paren(v) for v in yr])
ax12r.tick_params(axis="y", length=3, width=0.8, pad=1.5, labelsize=7.2, color="#404040",
                  labelcolor="#262626")
ax12r.plot(constr_m, constr, color=LGRY, lw=1.3)
ax12r.annotate("%.1f" % constr[-1], xy=(120, constr[-1]), xytext=(-9, -5),
               textcoords="offset points", color=LGRY, fontsize=8, fontweight="bold",
               ha="center", va="top")
ax12.set_zorder(ax12r.get_zorder() + 1)
ax12.patch.set_visible(False)
ax12.plot(starts_m, starts, color=RED, lw=1.4, zorder=3)
ax12.annotate("%.1f" % starts[-1], xy=(120, starts[-1]), xytext=(-8, 19),
              textcoords="offset points", color=RED, fontsize=8, fontweight="bold",
              ha="center", va="center")
ftext(80, 702, "(年同比,%)", **UK)
ftext(345, 702, "(年同比,%)", **UK)
legend_line(142, 712, "房屋新开工面积，3月平均移动", RED)
legend_line(142, 732, "房屋施工面积，3月移动平均（右轴）", LGRY, lw=1.3)
ftext(60, 923, "资料来源：CEIC，华泰研究", **SK)

# ---------------- 图表13 ----------------
ftext(413, 677, "图表13：7 月房地产开发企业到位资金同比降幅收窄至 7.6%", **TK)
ax13 = add_box(446.7, 725.7, 711.5, 895.5)
setup(ax13, 144, -40, 100, 20, labels_1207, pad=6, zero="#595959", zlw=0.9)
t13 = np.linspace(0, 143.7, len(funds))
ax13.plot(t13, sales_inc, color=LGRY, lw=1.2, zorder=3)
ax13.plot(t13, funds, color=RED, lw=1.4, zorder=4)
ftext(438, 699, "(年同比,%)", **UK)
legend_line(525, 699, "房地产开发企业到位资金", RED)
legend_line(525, 719, "其中：房地产销售收入*", LGRY, lw=1.3)
NK = dict(fontsize=6.3, family=CJK, color=SRC)
ftext(413, 923, "注：* 在房地产开发企业到位资金中归类于“其他资金来源”，大约占房地产到位资", **NK)
ftext(413, 937, "金的 40%-50%，其中约有 80%的资金来源于房屋销售的定金和预收款，以及银行", **NK)
ftext(413, 950, "发放的按揭贷款。", **NK)
ftext(413, 964, "资料来源：CEIC，华泰研究", **SK)

fig.savefig("out.png", dpi=100)
